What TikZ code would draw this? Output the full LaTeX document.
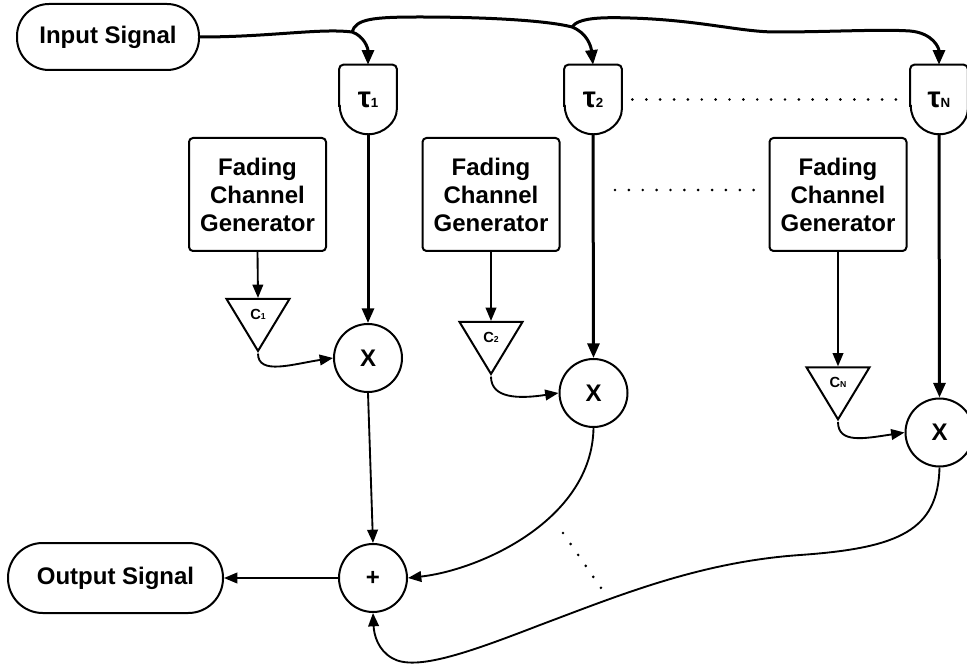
\documentclass[tikz,border=0pt]{standalone}
\usepackage{fontspec}
\setmainfont{Liberation Sans}
\usetikzlibrary{arrows.meta, shapes.geometric, calc}
\newcommand{\dly}[1]{{\fontsize{22}{22}\selectfont τ}{\fontsize{10}{10}\selectfont #1}}
\newcommand{\coef}[1]{C{\fontsize{6.5}{6.5}\selectfont #1}}

\begin{document}
\begin{tikzpicture}[
  x=0.75pt, y=-0.75pt,
  terminal/.style={draw, line width=1.5pt, rounded corners=24pt, minimum height=49.5pt, font=\fontsize{18}{21}\selectfont\bfseries},
  delay/.style={inner sep=0pt, minimum width=42.75pt, minimum height=51.75pt, font=\bfseries},
  genbox/.style={draw, line width=1.5pt, rounded corners=3pt, minimum width=102.75pt, minimum height=84.75pt, align=center, font=\fontsize{18}{21}\selectfont\bfseries},
  gain/.style={draw, line width=1.5pt, isosceles triangle, isosceles triangle stretches, shape border rotate=270, minimum width=47.25pt, minimum height=39pt, inner sep=0pt, font=\fontsize{11}{11}\selectfont\bfseries},
  mixer/.style={draw, circle, line width=1.5pt, minimum size=51pt, inner sep=0pt, font=\fontsize{18}{18}\selectfont\bfseries},
  rim/.style={line width=1.5pt},
  bus/.style={line width=2.25pt, -{Triangle[length=11pt, width=9pt]}},
  feed/.style={line width=1.4pt, -{Triangle[length=10pt, width=8pt]}},
  gap/.style={line width=2.2pt, line cap=round, dash pattern=on 0pt off 10.4pt},
]
  \useasboundingbox (0,0) rectangle (967,666);

  \node[terminal, minimum width=136.5pt] (in) at (108,37) {Input Signal};
  \node[terminal, minimum width=161.25pt, minimum height=52.5pt, rounded corners=26pt] (out) at (115.5,578) {Output Signal};

  \node[delay] (t1) at (368,99.5) {\dly{1}};
  \node[delay] (t2) at (593,99.5) {\dly{2}};
  \node[delay] (tN) at (939,99.5) {\dly{N}};
  \foreach \d in {t1,t2,tN}
    \draw[rim] ($(\d.south west)+(0,-28.5)$) [rounded corners=3pt] -- (\d.north west) -- (\d.north east) -- ($(\d.south east)+(0,-28.5)$) [sharp corners] arc[start angle=0, end angle=180, radius=28.5] -- cycle;

  \node[genbox] (g1) at (257.5,194.5) {Fading\\Channel\\Generator};
  \node[genbox] (g2) at (491,194.5) {Fading\\Channel\\Generator};
  \node[genbox] (gN) at (838,194.5) {Fading\\Channel\\Generator};

  \node[gain] (c1) at (258,314) {\coef{1}};
  \node[gain] (c2) at (491,337) {\coef{2}};
  \node[gain] (cN) at (838,382) {\coef{N}};

  \node[mixer] (m1) at (368,358) {X};
  \node[mixer] (m2) at (593.5,393) {X};
  \node[mixer] (mN) at (939.5,432.5) {X};
  \node[mixer] (sum) at (373,578) {+};

  \coordinate (b1) at (352,32);
  \coordinate (b2) at (572,27);
  \draw[bus] (in.east) .. controls (270,37) and (320,28) .. (b1) .. controls (364,36) and (368,48) .. (t1.north);
  \draw[bus] (b1) .. controls (356,19) and (372,17) .. (420,17) .. controls (480,17) and (545,20) .. (b2) .. controls (587,33) and (591,46) .. (t2.north);
  \draw[bus] (b2) .. controls (578,18) and (600,17) .. (630,18) .. controls (700,20) and (740,32) .. (776,32) .. controls (830,32) and (880,29) .. (910,31) .. controls (933,33) and (939,48) .. (tN.north);

  \draw[bus] (t1.south) -- (m1.north);
  \draw[bus] (t2.south) -- (m2.north);
  \draw[bus] (tN.south) -- (mN.north);

  \draw[feed] (g1.south) -- (c1.lower side);
  \draw[feed] (g2.south) -- (c2.lower side);
  \draw[feed] (gN.south) -- (cN.lower side);
  \draw[feed] (c1.apex) .. controls +(0,22) and +(-40,6) .. (m1.west);
  \draw[feed] (c2.apex) .. controls +(0,22) and +(-40,6) .. (m2.west);
  \draw[feed] (cN.apex) .. controls +(0,22) and +(-40,6) .. (mN.west);

  \draw[feed] (m1.south) -- (sum.north);
  \draw[feed] (m2.south) .. controls (592,520) and (480,570) .. (sum.east);
  \draw[feed] (mN.south) .. controls (938,530) and (900,548) .. (800,555) .. controls (700,562) and (620,595) .. (540,625) .. controls (470,652) and (415,672) .. (392,658) .. controls (378,650) and (374,635) .. (sum.south);
  \draw[feed] (sum.west) -- (out.east);

  \coordinate (d1) at (615,190);
  \coordinate (d2) at (754,190);
  \coordinate (d3) at (563,533);
  \coordinate (d4) at (601,588);
  \draw[gap, shorten <=8pt, shorten >=8pt] (t2.east) -- (tN.west);
  \draw[gap] (d1) -- (d2);
  \draw[gap, dash pattern=on 0pt off 10pt] (d3) -- (d4);
\end{tikzpicture}
\end{document}
